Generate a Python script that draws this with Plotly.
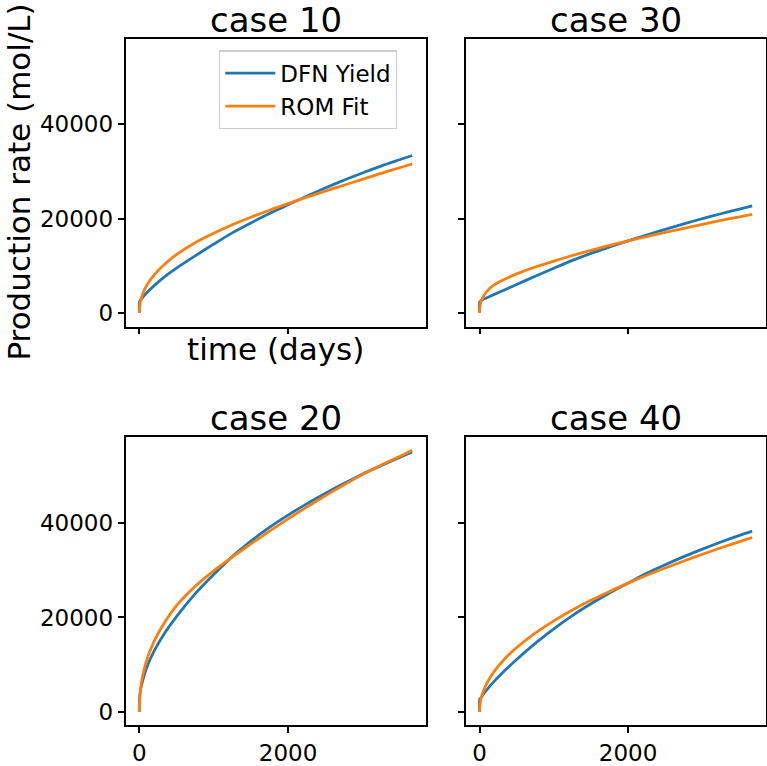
import plotly.graph_objects as go

# time grid (days)
t = [0, 2, 10, 25, 50, 100, 200, 350, 500, 750, 1000, 1250, 1500, 1750,
     2000, 2250, 2500, 2750, 3000, 3250, 3500, 3670]

case_names = ["case 10", "case 30", "case 20", "case 40"]

dfn_case10 = [0, 2400, 2600, 2900, 3400, 4300, 5800, 7800, 9500, 12100, 14600, 17000,
              19100, 21100, 22950, 24750, 26500, 28150, 29700, 31150, 32500, 33400]
rom_case10 = [0, 900, 2000, 3050, 4250, 5900, 8100, 10500, 12400, 14900, 16900, 18700,
              20300, 21800, 23200, 24550, 25850, 27100, 28350, 29600, 30800, 31600]

dfn_case30 = [0, 2300, 2450, 2650, 2900, 3250, 3950, 5000, 6050, 7800, 9500, 11150,
              12650, 14000, 15300, 16550, 17750, 18900, 20000, 21050, 22050, 22700]
rom_case30 = [0, 900, 1800, 2600, 3450, 4600, 6000, 7250, 8300, 9750, 11000, 12200,
              13300, 14330, 15300, 16220, 17110, 17970, 18810, 19620, 20410, 20930]

dfn_case20 = [0, 2400, 3900, 5300, 6900, 9400, 12900, 16900, 20200, 25000, 29100, 32900,
              36200, 39100, 41700, 44100, 46300, 48400, 50400, 52200, 53950, 55100]
rom_case20 = [0, 1700, 3800, 5900, 8000, 11000, 15000, 19200, 22500, 26600, 29900, 32800,
              35600, 38300, 40900, 43400, 45800, 48100, 50300, 52300, 54150, 55450]

dfn_case40 = [0, 2600, 2800, 3150, 3700, 4700, 6500, 8900, 11100, 14500, 17600, 20400,
              22900, 25200, 27300, 29400, 31200, 32900, 34500, 36000, 37400, 38300]
rom_case40 = [0, 860, 1930, 3050, 4310, 6100, 8630, 11400, 13640, 16700, 19290, 21570,
              23630, 25520, 27280, 28940, 30500, 31990, 33410, 34780, 36090, 36960]

x_ticks = [0, 2000]
y_ticks = [0, 20000, 40000]

BLUE = "#1f77b4"
ORANGE = "#ff7f0e"
FONT = "DejaVu Sans"
W, H = 767, 766

dfn = [dfn_case10, dfn_case30, dfn_case20, dfn_case40]
rom = [rom_case10, rom_case30, rom_case20, rom_case40]

# panel pixel boxes (left, right, top, bottom)
boxes = [(125.5, 425.7, 39, 330), (465.7, 765.7, 39, 330),
         (125.5, 425.7, 442, 733), (465.7, 765.7, 442, 733)]

fig = go.Figure()
for i in range(4):
    ax = "" if i == 0 else str(i + 1)
    fig.add_trace(go.Scatter(x=t, y=dfn[i], mode="lines", name="DFN Yield",
                             line=dict(color=BLUE, width=2.8, shape="spline", smoothing=0.8),
                             xaxis="x" + ax, yaxis="y" + ax, showlegend=(i == 0)))
    fig.add_trace(go.Scatter(x=t, y=rom[i], mode="lines", name="ROM Fit",
                             line=dict(color=ORANGE, width=2.8, shape="spline", smoothing=0.8),
                             xaxis="x" + ax, yaxis="y" + ax, showlegend=(i == 0)))

layout = {}
for i, (l, r, tp, bt) in enumerate(boxes):
    ax = "" if i == 0 else str(i + 1)
    common = dict(showline=True, linecolor="black", linewidth=1.6, mirror=True,
                  ticks="outside", ticklen=6, tickwidth=1.6, tickcolor="black",
                  showgrid=False, zeroline=False,
                  tickfont=dict(family=FONT, size=23, color="black"))
    layout["xaxis" + ax] = dict(common, domain=[l / W, r / W], range=[-186, 3852],
                                tickvals=x_ticks, ticktext=[str(v) for v in x_ticks],
                                showticklabels=(i >= 2),
                                anchor="y" + ax)
    layout["yaxis" + ax] = dict(common, domain=[1 - bt / H, 1 - tp / H], range=[-2875, 58195],
                                tickvals=y_ticks, ticktext=[str(v) for v in y_ticks],
                                showticklabels=(i % 2 == 0),
                                anchor="x" + ax)

annotations = []
for i, (l, r, tp, bt) in enumerate(boxes):
    annotations.append(dict(text=case_names[i], x=(l + r) / 2 / W, y=1 - tp / H,
                            xref="paper", yref="paper", xanchor="center", yanchor="bottom",
                            showarrow=False, yshift=-3,
                            font=dict(family=FONT, size=34, color="black")))
annotations.append(dict(text="Production rate (mol/L)", x=19 / W, y=1 - 184.5 / H,
                        xref="paper", yref="paper", xanchor="center", yanchor="middle",
                        textangle=-90, showarrow=False,
                        font=dict(family=FONT, size=31, color="black")))
annotations.append(dict(text="time (days)", x=275.6 / W, y=1 - 353 / H,
                        xref="paper", yref="paper", xanchor="center", yanchor="middle",
                        showarrow=False,
                        font=dict(family=FONT, size=31, color="black")))

fig.update_layout(**layout)
fig.update_layout(
    width=W, height=H, margin=dict(l=0, r=0, t=0, b=0),
    paper_bgcolor="white", plot_bgcolor="white",
    annotations=annotations,
    showlegend=True,
    legend=dict(x=219 / W, y=1 - 51 / H, xanchor="left", yanchor="top",
                bgcolor="rgba(255,255,255,0.8)", bordercolor="#cccccc", borderwidth=1.3,
                font=dict(family=FONT, size=23, color="black"), itemwidth=50),
    font=dict(family=FONT, color="black"),
)

fig.write_html("out.html", config={"displayModeBar": False},
               post_script="document.body.style.margin='0px';")
